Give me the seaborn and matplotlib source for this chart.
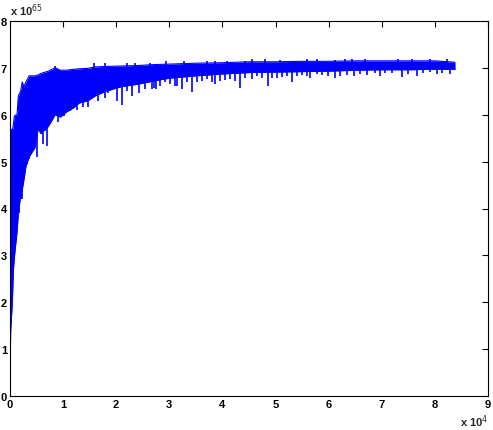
import numpy as np
import pandas as pd
import matplotlib
matplotlib.use("Agg")
import matplotlib.pyplot as plt
import seaborn as sns

# sample index vs value (values in units of 1e65), envelope of the noisy trace
env_x  = [0, 50, 130, 440, 630, 820, 1130, 1320, 1570, 2000, 2300, 2600, 3000, 3600,
          4700, 5300, 5800, 7200, 8500, 9500, 10500, 12000, 13000, 14700, 16000, 18000,
          21000, 24000, 27000, 30000, 35000, 40000, 45000, 50000, 55000, 60000,
          65000, 70000, 75000, 80000, 83800]
env_lo = [0.0, 0.9, 1.4, 2.0, 2.67, 2.96, 3.3, 3.5, 3.9, 4.27, 4.4, 4.6, 4.9, 5.1,
          5.3, 5.7, 5.6, 5.75, 6.0, 5.95, 6.05, 6.15, 6.25, 6.3, 6.4, 6.5,
          6.6, 6.65, 6.72, 6.78, 6.83, 6.87, 6.9, 6.91, 6.92, 6.93,
          6.95, 6.96, 6.96, 6.97, 6.97]
env_hi = [0.0, 5.7, 5.7, 5.65, 5.8, 5.97, 6.0, 6.0, 6.4, 6.5, 6.7, 6.6, 6.7, 6.83,
          6.83, 6.85, 6.88, 6.93, 7.0, 6.95, 6.95, 6.97, 6.98, 6.99, 7.02, 7.03,
          7.04, 7.05, 7.07, 7.08, 7.1, 7.11, 7.13, 7.13, 7.14, 7.14,
          7.15, 7.15, 7.15, 7.15, 7.12]

# downward spikes below the band
dip_x = [1700, 2100, 2200, 3000, 3200, 3600, 4100, 5100, 6000, 6200, 6600, 7000, 9100,
         10200, 10700, 11300, 12200, 12700,
         13800, 14700, 15700, 16600, 17800, 18500, 20200, 21000, 22000, 22900, 24200,
         25400, 26700, 27100, 27500, 28200, 29200, 30100, 31100, 31500, 32400, 33300,
         34300, 35200, 36200, 37100, 38000, 38600, 39500, 40500, 41400, 42400, 43300,
         44300, 45500, 46500, 47400, 48500, 49300, 50200, 51200, 52100, 53100, 54000,
         54900, 55900, 56500, 57800, 58700, 59900, 61200, 62100, 63400, 64800, 65900,
         67200, 68700, 69700, 70600, 71900, 73800, 75000, 76600, 77800, 79100, 80400,
         81300, 82900]
dip_y = [3.9, 4.2, 4.2, 4.9, 4.95, 5.05, 5.2, 5.1, 5.58, 5.37, 5.65, 5.33, 5.84,
         5.97, 6.25, 6.08, 6.18, 6.11,
         6.16, 6.16, 6.36, 6.29, 6.36, 6.47, 6.3, 6.2, 6.5, 6.4, 6.47,
         6.54, 6.54, 6.58, 6.55, 6.62, 6.69, 6.65, 6.62, 6.62, 6.55, 6.69,
         6.48, 6.69, 6.72, 6.76, 6.69, 6.66, 6.72, 6.74, 6.76, 6.72, 6.57,
         6.78, 6.76, 6.83, 6.79, 6.61, 6.79, 6.79, 6.81, 6.83, 6.70, 6.83,
         6.84, 6.83, 6.79, 6.87, 6.84, 6.82, 6.79, 6.83, 6.84, 6.83, 6.87,
         6.85, 6.90, 6.83, 6.90, 6.90, 6.81, 6.88, 6.83, 6.90, 6.91, 6.88,
         6.90, 6.88]

# upward spikes above the band
peak_x = [8500, 15900, 17800, 22000, 23600, 26400, 29300, 32800, 37000, 38600, 40800,
          44300, 45500, 48000, 50900, 55900, 57800, 61200, 63100, 64400, 66900, 73100,
          75600, 79100, 82200]
peak_y = [7.04, 7.1, 7.1, 7.1, 7.1, 7.1, 7.14, 7.14, 7.15, 7.15, 7.15,
          7.14, 7.18, 7.18, 7.17, 7.18, 7.19, 7.17, 7.18, 7.2, 7.2, 7.2,
          7.2, 7.2, 7.2]

x_ticks = list(range(0, 10))
y_ticks = list(range(0, 9))

BLUE = "#0000ff"

df = pd.DataFrame({"x": np.array(env_x) / 1e4, "lo": env_lo, "hi": env_hi})

sns.set_style("white")
plt.rcParams["font.family"] = ["Liberation Sans", "DejaVu Sans"]

fig = plt.figure(figsize=(4.93, 4.31), dpi=100)
ax = fig.add_axes([10 / 493, 34 / 431, 478 / 493, 375 / 431])

ax.fill_between(df["x"], df["lo"], df["hi"], color=BLUE, linewidth=0)
sns.lineplot(data=df, x="x", y="lo", ax=ax, color=BLUE, linewidth=0.8, sort=False, estimator=None)
sns.lineplot(data=df, x="x", y="hi", ax=ax, color=BLUE, linewidth=0.8, sort=False, estimator=None)

dx = np.array(dip_x) / 1e4
ax.vlines(dx, dip_y, np.interp(dx, df["x"], df["hi"]) - 0.1, color=BLUE, linewidth=1.2)
px = np.array(peak_x) / 1e4
ax.vlines(px, np.interp(px, df["x"], df["lo"]), peak_y, color=BLUE, linewidth=1.2)

ax.set_xlim(0, 9)
ax.set_ylim(0, 8)
ax.set_xticks(x_ticks)
ax.set_yticks(y_ticks)
ax.set_xlabel("")
ax.set_ylabel("")
ax.tick_params(direction="in", length=4, width=0.8, top=True, right=True,
               labelsize=8, pad=2, colors="black")
for lab in ax.get_xticklabels() + ax.get_yticklabels():
    lab.set_fontweight("bold")
for s in ax.spines.values():
    s.set_visible(True)
    s.set_color("black")
    s.set_linewidth(0.8)

ax.text(0.0, 1.008, r"x 10$^{65}$", transform=ax.transAxes, ha="left", va="bottom",
        fontsize=8, fontweight="bold")
ax.text(1.0, -0.045, r"x 10$^{4}$", transform=ax.transAxes, ha="right", va="top",
        fontsize=8, fontweight="bold")

fig.savefig("out.png", dpi=100, facecolor="white")
